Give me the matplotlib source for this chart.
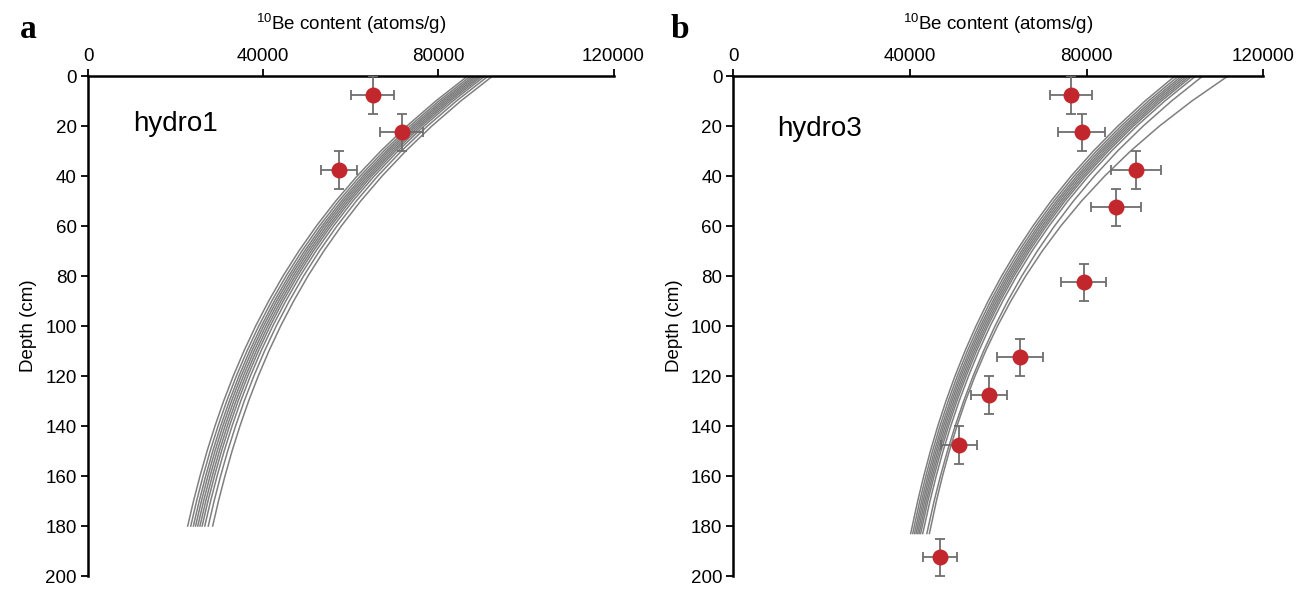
import numpy as np
import matplotlib
matplotlib.use('Agg')
import matplotlib.pyplot as plt

plt.rcParams['font.family'] = ['Liberation Sans', 'DejaVu Sans']
plt.rcParams['mathtext.fontset'] = 'custom'
plt.rcParams['mathtext.rm'] = 'Liberation Sans'

# measured 10Be samples (depth midpoint, content, errors)
h1_depth = [7.5, 22.5, 37.5]
h1_be = [65000, 71600, 57300]
h1_xerr = [4900, 5000, 4100]
h1_yerr = [7.5, 7.5, 7.5]

h3_depth = [7.5, 22.5, 37.5, 52.5, 82.5, 112.5, 127.5, 147.5, 192.5]
h3_be = [76400, 78900, 91200, 86600, 79300, 64800, 57800, 51100, 46800]
h3_xerr = [4700, 5300, 5700, 5600, 5100, 5200, 4100, 4000, 3800]
h3_yerr = [7.5, 7.5, 7.5, 7.5, 7.5, 7.5, 7.5, 7.5, 7.5]

# model profiles
h1_model_depth = [0, 10, 20, 30, 40, 50, 60, 70, 80, 90, 100, 110, 120, 130, 140, 150, 160, 170, 180]
h1_models = [
    [86700, 79410, 72810, 66850, 61450, 56560, 52140, 48140, 44520, 41250, 38280, 35600, 33170, 30970, 28990, 27190, 25570, 24090, 22760],
    [87400, 80110, 73510, 67550, 62150, 57260, 52840, 48840, 45220, 41950, 38980, 36300, 33870, 31670, 29690, 27890, 26270, 24790, 23460],
    [88000, 80710, 74110, 68150, 62750, 57860, 53440, 49440, 45820, 42550, 39580, 36900, 34470, 32270, 30290, 28490, 26870, 25390, 24060],
    [88500, 81210, 74610, 68650, 63250, 58360, 53940, 49940, 46320, 43050, 40080, 37400, 34970, 32770, 30790, 28990, 27370, 25890, 24560],
    [89000, 81710, 75110, 69150, 63750, 58860, 54440, 50440, 46820, 43550, 40580, 37900, 35470, 33270, 31290, 29490, 27870, 26390, 25060],
    [89500, 82210, 75610, 69650, 64250, 59360, 54940, 50940, 47320, 44050, 41080, 38400, 35970, 33770, 31790, 29990, 28370, 26890, 25560],
    [90000, 82710, 76110, 70150, 64750, 59860, 55440, 51440, 47820, 44550, 41580, 38900, 36470, 34270, 32290, 30490, 28870, 27390, 26060],
    [90600, 83310, 76710, 70750, 65350, 60460, 56040, 52040, 48420, 45150, 42180, 39500, 37070, 34870, 32890, 31090, 29470, 27990, 26660],
    [91400, 84110, 77510, 71550, 66150, 61260, 56840, 52840, 49220, 45950, 42980, 40300, 37870, 35670, 33690, 31890, 30270, 28790, 27460],
    [92400, 85110, 78510, 72550, 67150, 62260, 57840, 53840, 50220, 46950, 43980, 41300, 38870, 36670, 34690, 32890, 31270, 29790, 28460],
]

h3_model_depth = [0, 10, 20, 30, 40, 50, 60, 70, 80, 90, 100, 110, 120, 130, 140, 150, 160, 170, 183]
h3_models = [
    [100000, 93210, 87070, 81520, 76490, 71940, 67830, 64110, 60740, 57690, 54930, 52440, 50180, 48130, 46280, 44610, 43100, 41730, 40140],
    [100800, 93980, 87800, 82220, 77160, 72580, 68450, 64700, 61320, 58250, 55480, 52970, 50700, 48640, 46780, 45090, 43580, 42200, 40600],
    [101500, 94640, 88440, 82820, 77750, 73150, 68990, 65230, 61820, 58750, 55950, 53440, 51150, 49090, 47220, 45520, 44000, 42610, 41010],
    [102100, 95210, 88980, 83350, 78250, 73630, 69450, 65680, 62260, 59170, 56360, 53840, 51540, 49470, 47590, 45890, 44360, 42970, 41360],
    [102700, 95780, 89530, 83870, 78750, 74110, 69920, 66130, 62690, 59590, 56780, 54240, 51940, 49850, 47960, 46260, 44720, 43320, 41710],
    [103300, 96360, 90070, 84390, 79250, 74590, 70380, 66570, 63130, 60010, 57190, 54640, 52330, 50230, 48340, 46620, 45080, 43680, 42050],
    [103900, 96930, 90620, 84910, 79750, 75070, 70850, 67020, 63560, 60430, 57600, 55040, 52720, 50610, 48710, 46990, 45440, 44030, 42400],
    [104700, 97690, 91350, 85610, 80420, 75720, 71470, 67620, 64140, 61000, 58140, 55570, 53240, 51120, 49210, 47480, 45920, 44510, 42870],
    [106300, 99210, 92800, 87000, 81760, 77000, 72710, 68820, 65300, 62120, 59240, 56640, 54280, 52140, 50210, 48460, 46880, 45450, 43800],
    [112000, 103820, 96490, 89940, 84090, 78840, 74140, 69940, 66180, 62820, 59810, 57120, 54710, 52550, 50620, 48900, 47350, 45960, 44380],
]

xticks = [0, 40000, 80000, 120000]
yticks = list(range(0, 201, 20))

fig = plt.figure(figsize=(13.06, 5.92), dpi=100)
ax1 = fig.add_axes([0.0674, 0.0270, 0.4024, 0.8446])
ax2 = fig.add_axes([0.5616, 0.0270, 0.4057, 0.8446])

panels = [
    (ax1, h1_model_depth, h1_models, h1_depth, h1_be, h1_xerr, h1_yerr, 'hydro1', 10300, 19),
    (ax2, h3_model_depth, h3_models, h3_depth, h3_be, h3_xerr, h3_yerr, 'hydro3', 9900, 21),
]

for ax, mdep, models, dep, be, xerr, yerr, name, tx, ty in panels:
    for m in models:
        ax.plot(m, mdep, color='#7f7f7f', lw=1.1, zorder=2)
    ax.errorbar(be, dep, xerr=xerr, yerr=yerr, fmt='none', ecolor='#6e6e6e',
                elinewidth=1.3, capsize=3.5, capthick=1.3, zorder=3)
    ax.plot(be, dep, 'o', color='#c1272d', markersize=11.5, markeredgewidth=0, zorder=4)

    ax.set_xlim(0, 120000)
    ax.set_ylim(200, 0)
    ax.set_xticks(xticks)
    ax.set_xticklabels([str(t) for t in xticks])
    ax.set_yticks(yticks)
    ax.xaxis.tick_top()
    ax.xaxis.set_label_position('top')
    ax.set_xlabel(r'$^{10}$Be content (atoms/g)', fontsize=13.5, labelpad=13)
    ax.set_ylabel('Depth (cm)', fontsize=13.5, labelpad=6)
    ax.tick_params(axis='both', labelsize=13.5, length=5, width=1.3, direction='out', pad=3)
    ax.spines['right'].set_visible(False)
    ax.spines['bottom'].set_visible(False)
    ax.spines['top'].set_linewidth(1.8)
    ax.spines['left'].set_linewidth(1.8)
    ax.text(tx, ty, name, fontsize=20, ha='left', va='center')

fig.text(20 / 1306, 1 - 38 / 592, 'a', family='Liberation Serif', weight='bold', fontsize=24)
fig.text(671 / 1306, 1 - 38 / 592, 'b', family='Liberation Serif', weight='bold', fontsize=24)

plt.savefig('out.png', dpi=100)
